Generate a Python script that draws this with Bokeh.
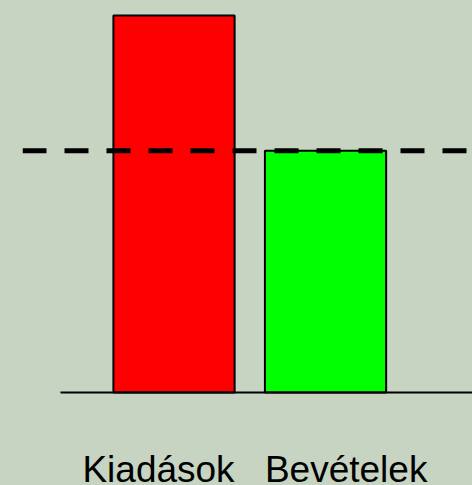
import numpy as np
from bokeh.plotting import figure
from bokeh.models import ColumnDataSource, Range1d, Span, LinearAxis, FixedTicker, GlobalInlineStyleSheet
from bokeh.core.properties import value
from bokeh.embed import file_html
from bokeh.resources import INLINE

# Data
categories = ["Kiadások", "Bevételek"]
amounts = [3.9, 2.5]
bar_colors = ["#ff0000", "#00ff00"]
reference_level = amounts[1]

BG = "#c7d4c2"
xs = np.arange(len(categories))
bar_w = 0.8

src = ColumnDataSource(dict(x=xs, top=amounts, color=bar_colors, cat=categories))

p = figure(width=472, height=485, output_backend="svg", toolbar_location=None,
           x_range=Range1d(-1.0, 1.97), y_range=Range1d(-0.962, 4.055),
           x_axis_location=None, y_axis_location=None,
           min_border_left=22, min_border_right=0, min_border_top=0, min_border_bottom=0)
p.background_fill_color = BG
p.border_fill_color = BG
p.outline_line_color = None
p.grid.visible = False
p.stylesheets = [GlobalInlineStyleSheet(css="body { background: %s; }" % BG)]

p.vbar(x="x", top="top", width=bar_w, bottom=0, source=src,
       fill_color="color", line_color="black", line_width=2)

# baseline axis at y=0
ax = LinearAxis(fixed_location=0, bounds=(-0.75, 1.97), ticker=FixedTicker(ticks=[]),
                major_tick_line_color=None, minor_tick_line_color=None,
                axis_line_width=2, axis_line_color="black")
p.add_layout(ax, "below")

# dashed reference line at revenue level
p.add_layout(Span(location=reference_level, dimension="width", line_color="black",
                  line_width=5, line_dash="24 18"))

# category labels
p.text(x=[xs[0] + bar_w / 2], y=[0], text=[categories[0]], text_align="right",
       text_baseline="alphabetic", y_offset=77, text_font=value("Liberation Sans"),
       text_font_size="37px", text_color="black")
p.text(x=[xs[1] - bar_w / 2], y=[0], text=[categories[1]], text_align="left",
       text_baseline="alphabetic", y_offset=77, text_font=value("Liberation Sans"),
       text_font_size="37px", text_color="black")

open("out.html", "w").write(file_html(p, INLINE))
